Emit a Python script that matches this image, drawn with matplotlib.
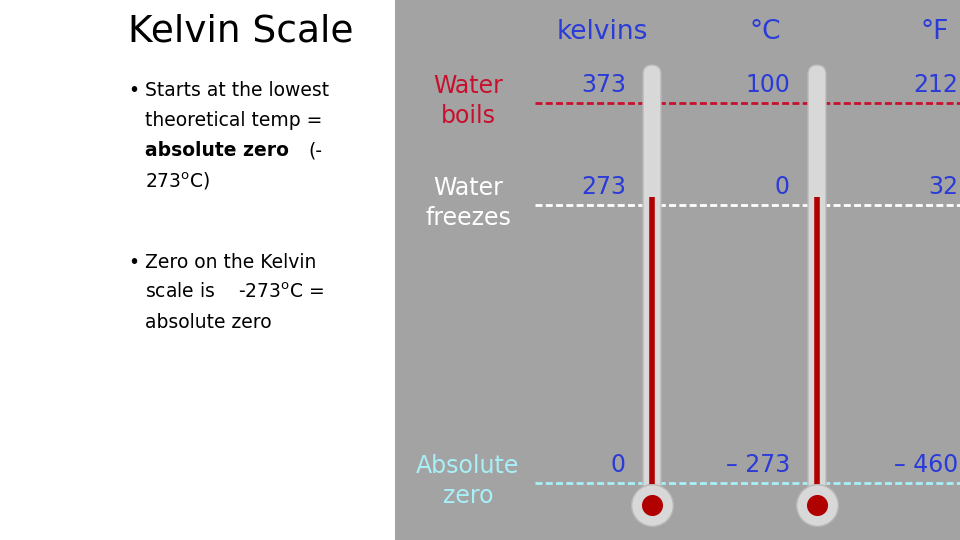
import matplotlib
matplotlib.use('Agg')
import matplotlib.pyplot as plt
from matplotlib.patches import FancyBboxPatch, Circle

# data
points = ['Water\nboils', 'Water\nfreezes', 'Absolute\nzero']
kelvins = [373, 273, 0]
celsius = ['100', '0', '– 273']
fahrenheit = ['212', '32', '– 460']
point_colors = ['#c8102e', 'white', '#a8f0f8']
line_colors = ['#c8102e', 'white', '#a8f0f8']
headers = ['kelvins', '°C', '°F']

fig = plt.figure(figsize=(9.6, 5.4), dpi=100)

# left text
fig.text(128/960, 1-32/540, 'Kelvin Scale', fontsize=27, va='center', ha='left',
         family='Liberation Sans Narrow')
fs = 13.5
fig.text(128/960, 1-91/540, '•', fontsize=fs, va='center')
fig.text(145/960, 1-91/540, 'Starts at the lowest', fontsize=fs, va='center')
fig.text(145/960, 1-121/540, 'theoretical temp =', fontsize=fs, va='center')
fig.text(145/960, 1-151/540, 'absolute zero', fontsize=fs, va='center', weight='bold')
fig.text(308/960, 1-151/540, '(-', fontsize=fs, va='center')
fig.text(145/960, 1-181/540, '273$^{\\mathrm{o}}$C)', fontsize=fs, va='center')
fig.text(128/960, 1-262/540, '•', fontsize=fs, va='center')
fig.text(145/960, 1-262/540, 'Zero on the Kelvin', fontsize=fs, va='center')
fig.text(145/960, 1-292/540, 'scale is    -273$^{\\mathrm{o}}$C =', fontsize=fs, va='center')
fig.text(145/960, 1-322/540, 'absolute zero', fontsize=fs, va='center')

# right panel, y in kelvin
ax = fig.add_axes([395/960, 0, 565/960, 1])
ax.set_xlim(395, 960)
k_per_px = 373 / (483 - 103)
ax.set_ylim(-(540-483)*k_per_px, 483*k_per_px)
ax.set_facecolor('#a3a3a3')
ax.set_xticks([]); ax.set_yticks([])
for s in ax.spines.values():
    s.set_visible(False)

for x, h in zip([602, 765, 935], headers):
    ax.text(x, (483-32)*k_per_px, h, color='#2a3bd8', fontsize=19, ha='center', va='center')

for name, k, c, f, pc, lc in zip(points, kelvins, celsius, fahrenheit, point_colors, line_colors):
    ax.plot([535, 960], [k, k], color=lc, lw=2, ls=(0, (2.5, 1.2)))
    ax.text(468, k + 2, name, color=pc, fontsize=17, ha='center', va='center', linespacing=1.3)
    ax.text(626, k + 18, str(k), color='#2a3bd8', fontsize=17, ha='right', va='center')
    ax.text(790, k + 18, c, color='#2a3bd8', fontsize=17, ha='right', va='center')
    ax.text(958, k + 18, f, color='#2a3bd8', fontsize=17, ha='right', va='center')

# thermometers
for x in [652, 817]:
    top = (483-65)*k_per_px
    bot = -(505-483)*k_per_px
    ax.add_patch(FancyBboxPatch((x-9, bot), 18, top-bot, boxstyle='round,pad=0,rounding_size=9',
                                fc='#d8d8d8', ec='#b8b8b8', lw=1, mutation_aspect=k_per_px, zorder=3))
    ax.add_patch(Circle((x, bot), 1, fc='none'))
    ax.plot([x, x], [bot, 273 + 8], color='#b00000', lw=4, zorder=4, solid_capstyle='butt')
    ax.scatter([x], [bot], s=900, c='#d8d8d8', edgecolors='#b8b8b8', zorder=4)
    ax.scatter([x], [bot], s=200, c='#b00000', zorder=5)

fig.savefig('out.png', dpi=100)
